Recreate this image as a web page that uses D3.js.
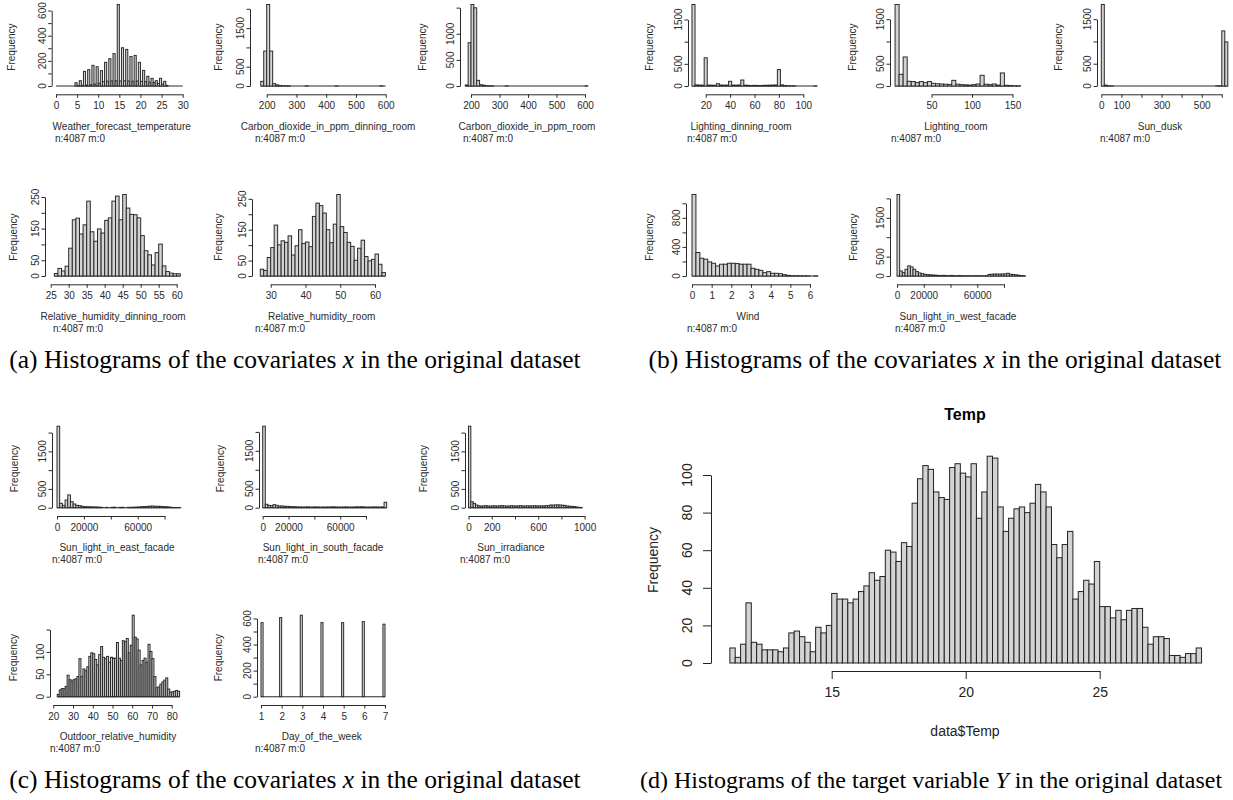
<!DOCTYPE html>
<html>
<head>
<meta charset="utf-8">
<script src="https://cdn.jsdelivr.net/npm/d3@7"></script>
<style>
  body { margin: 0; background: #fff; }
  svg { display: block; }
</style>
</head>
<body>
<svg id="viz" width="1233" height="800"></svg>
<script>
// ---- data (counts) ----
const weatherCounts = [0,0,0,0,0,0,0,0,0,26,3,42,5,116,8,130,10,164,15,153,22,122,35,188,38,217,40,257,42,648,40,304,42,291,40,235,38,243,40,188,36,124,35,77,30,61,28,42,20,61,15,37,5,0,0,0,0,0,0,0];
const co2DiningCounts = [120,905,2111,905,60,30,12,6,3,2, 0,0,0,0,0,1,0,0,0,0, 0,0,0,0,0,1,0,0,0,0, 0,0,0,0,0,0,0,0,0,0, 1,0];
const co2RoomCounts = [20,828,1560,1497,108,25,15,5,3,2, 0,0,0,0,1,0,0,0,0,0, 0,0,0,0,0,0,0,0,0,0, 0,0,0,0,0,0,0,0,0,0, 0,0,1];
const rhDiningCounts = [8,24,16,31,88,178,183,133,162,237,140,110,149,136,176,184,237,253,178,258,215,195,194,184,128,80,67,35,74,101,32,14,9,7,7];
const rhRoomCounts = [22,18,60,92,165,101,114,109,130,68,98,150,105,110,95,193,236,228,204,150,108,168,264,160,141,109,96,51,90,116,63,49,54,71,38,11];
const lightDiningCounts = [1838,25,20,18,637,20,18,15,52,22, 18,20,105,20,18,22,135,18,15,10, 15,12,10,15,15,18,20,22,370,25, 12,5,3,2,0,0,0,0,0,0, 1];
const lightRoomCounts = [1830,262,652,105,100,75,100,75,100,60, 50,45,40,35,127,40,30,25,20,30, 45,240,40,30,45,20,293,15,10,3, 2];
const sunDuskCounts = [1830,20,2,1,0,0,0,0,0,0, 0,0,0,0,0,0,0,0,0,0, 0,0,0,0,0,0,0,0,0,0, 0,0,0,0,0,0,0,0,1,3, 1238,990];
const windCounts = [1121,323,245,231,194,175,138,162,162,175,175,171,162,162,162,106,92,78,46,60,37,37,32,18,9,4,3,2,1,1,0,1];
const westCounts = [2100,130,87,173,260,234,173,113,78,61, 43,35,30,25,20,15,12,18,10,8, 15,5,3,12,5,4,3,2,2,8, 3,2,3,5,40,45,50,50,48,52, 55,70,45,38,30,20,10,5];
const eastCounts = [2170,116,62,205,340,160,98,62,54,36, 27,25,22,20,18,15,10,0,8,0, 10,12,0,8,10,0,9,10,12,15, 20,25,30,35,40,45,36,38,35,30, 25,20,10,5,2,1];
const southCounts = [2150,90,62,54,80,62,45,45,36,36, 30,27,25,18,20,16,18,22,15,18, 20,17,14,18,16,18,20,22,18,16, 15,18,20,14,16,18,22,20,25,18, 16,14,18,20,17,15,20,143];
const irradianceCounts = [2170,160,116,71,50,42,48,55,45,40, 52,47,44,50,55,48,42,46,52,50, 45,48,53,47,44,50,46,49,52,48, 45,50,47,55,52,71,68,72,75,70, 66,60,45,40,35,30,20,10,5];
const outdoorCounts = [5,15,18,18,23,48,38,35,38,40,45,85,45,62,58,67,90,98,96,83,71,94,112,88,85,90,77,88,86,86,121,86,81,125,123,130,98,115,182,133,129,104,71,81,86,77,117,101,85,45,20,22,28,33,37,42,17,10,11,12,14,12];
const days = [1,2,3,4,5,6,7];
const dayCounts = [568,607,625,568,568,576,556];
const tempCounts = [8,3,10,32,11,10,7,7,7,6, 8,16,17,14,11,6,19,16,20,37, 34,34,32,34,38,41,48,44,46,60, 59,54,64,62,85,98,105,103,91,88, 87,104,106,101,99,106,77,91,110,109, 83,70,77,82,83,80,85,95,91,83, 63,56,63,70,34,38,44,42,54,30, 30,24,28,23,28,29,29,19,10,14, 14,13,4,4,3,5,5,8];

// day of week: one narrow bin per day (width 0.1), built from the arrays above
const dayBinCounts = d3.range(60).map(j => {
  const k = days.findIndex(d => (d === 1 ? 0 : Math.round((d - 1) * 10) - 1) === j);
  return k >= 0 ? dayCounts[k] : 0;
});

const histPanels = [
  { name: 'Weather_forecast_temperature', start: 0, width: 0.5, counts: weatherCounts,
    xTicks: d3.range(0, 31, 5), xLabels: d3.range(0, 31, 5), yTicks: d3.range(0, 601, 100), yLabels: [0, 200, 400, 600] },
  { name: 'Carbon_dioxide_in_ppm_dinning_room', start: 180, width: 10, counts: co2DiningCounts,
    xTicks: [200, 300, 400, 500, 600], xLabels: [200, 300, 400, 500, 600], yTicks: [0, 500, 1000, 1500, 2000], yLabels: [0, 500, 1500] },
  { name: 'Carbon_dioxide_in_ppm_room', start: 180, width: 10, counts: co2RoomCounts,
    xTicks: [200, 300, 400, 500, 600], xLabels: [200, 300, 400, 500, 600], yTicks: [0, 500, 1000, 1500], yLabels: [0, 500, 1000] },
  { name: 'Relative_humidity_dinning_room', start: 26, width: 1, counts: rhDiningCounts,
    xTicks: d3.range(25, 61, 5), xLabels: d3.range(25, 61, 5), yTicks: d3.range(0, 251, 50), yLabels: [0, 50, 150, 250] },
  { name: 'Relative_humidity_room', start: 27, width: 1, counts: rhRoomCounts,
    xTicks: [30, 40, 50, 60], xLabels: [30, 40, 50, 60], yTicks: d3.range(0, 251, 50), yLabels: [0, 50, 150, 250] },
  { name: 'Lighting_dinning_room', start: 8.75, width: 2.5, counts: lightDiningCounts,
    xTicks: [20, 40, 60, 80, 100], xLabels: [20, 40, 60, 80, 100], yTicks: [0, 500, 1000, 1500], yLabels: [0, 500, 1500] },
  { name: 'Lighting_room', start: 5, width: 5, counts: lightRoomCounts,
    xTicks: [50, 100, 150], xLabels: [50, 100, 150], yTicks: [0, 500, 1000, 1500], yLabels: [0, 500, 1500] },
  { name: 'Sun_dusk', start: 0, width: 15, counts: sunDuskCounts,
    xTicks: d3.range(0, 601, 100), xLabels: [0, 100, 300, 500], yTicks: [0, 500, 1000, 1500], yLabels: [0, 500, 1500] },
  { name: 'Wind', start: 0, width: 0.2, counts: windCounts,
    xTicks: d3.range(0, 7), xLabels: d3.range(0, 7), yTicks: d3.range(0, 1001, 200), yLabels: [0, 400, 800] },
  { name: 'Sun_light_in_west_facade', start: 0, width: 2000, counts: westCounts,
    xTicks: d3.range(0, 80001, 20000), xLabels: [0, 20000, 60000], yTicks: [0, 500, 1000, 1500, 2000], yLabels: [0, 500, 1500] },
  { name: 'Sun_light_in_east_facade', start: 0, width: 2000, counts: eastCounts,
    xTicks: d3.range(0, 80001, 20000), xLabels: [0, 20000, 60000], yTicks: [0, 500, 1000, 1500, 2000], yLabels: [0, 500, 1500] },
  { name: 'Sun_light_in_south_facade', start: 0, width: 2000, counts: southCounts,
    xTicks: d3.range(0, 80001, 20000), xLabels: [0, 20000, 60000], yTicks: [0, 500, 1000, 1500, 2000], yLabels: [0, 500, 1500] },
  { name: 'Sun_irradiance', start: 0, width: 20, counts: irradianceCounts,
    xTicks: d3.range(0, 1001, 200), xLabels: [0, 200, 600, 1000], yTicks: [0, 500, 1000, 1500, 2000], yLabels: [0, 500, 1500] },
  { name: 'Outdoor_relative_humidity', start: 22, width: 1, counts: outdoorCounts,
    xTicks: d3.range(20, 81, 10), xLabels: d3.range(20, 81, 10), yTicks: [0, 50, 100, 150], yLabels: [0, 50, 100] },
  { name: 'Day_of_the_week', start: 1, width: 0.1, counts: dayBinCounts,
    xTicks: days, xLabels: days, yTicks: d3.range(0, 601, 100), yLabels: [0, 200, 400, 600] }
];

// where each small histogram sits on the page (same order as histPanels)
const layout = [
  { ax: 51.7, rowY: 0, xa: [0, 56], xb: [30, 182.7], tx: 121.7, nx: 55, fx: 11 },
  { ax: 250, rowY: 0, xa: [200, 266.7], xb: [600, 385.7], tx: 328, nx: 255, fx: 218 },
  { ax: 460, rowY: 0, xa: [200, 471], xb: [600, 585], tx: 527, nx: 463, fx: 422 },
  { ax: 45, rowY: 190, xa: [25, 50.7], xb: [60, 176.7], tx: 113, nx: 53, fx: 13 },
  { ax: 252, rowY: 190, xa: [30, 270.7], xb: [60, 375], tx: 321.7, nx: 255, fx: 218 },
  { ax: 688, rowY: 0, xa: [20, 705.7], xb: [100, 803.3], tx: 741, nx: 687, fx: 649 },
  { ax: 890, rowY: 0, xa: [50, 931.5], xb: [150, 1012.5], tx: 956, nx: 891, fx: 852 },
  { ax: 1097, rowY: 0, xa: [0, 1101.3], xb: [500, 1201.7], tx: 1160, nx: 1100, fx: 1058 },
  { ax: 686, rowY: 190, xa: [0, 692], xb: [6, 810], tx: 748, nx: 687, fx: 649 },
  { ax: 890, rowY: 190, xa: [0, 897], xb: [80000, 1004], tx: 958, nx: 895, fx: 853 },
  { ax: 52, rowY: 421.7, xa: [0, 57], xb: [80000, 164.6], tx: 117, nx: 52, fx: 14 },
  { ax: 259, rowY: 421.7, xa: [0, 262.7], xb: [80000, 366], tx: 323, nx: 258, fx: 220 },
  { ax: 465, rowY: 421.7, xa: [0, 468.5], xb: [1000, 584.6], tx: 511, nx: 460, fx: 423 },
  { ax: 50, rowY: 610.7, xa: [20, 53.3], xb: [80, 171.7], tx: 118, nx: 50, fx: 13 },
  { ax: 257, rowY: 610.7, xa: [1, 261], xb: [7, 385], tx: 321.7, nx: 255, fx: 218 }
];

const captions = [
  { pre: '(a) Histograms of the covariates ', sym: 'x', post: ' in the original dataset' },
  { pre: '(b) Histograms of the covariates ', sym: 'x', post: ' in the original dataset' },
  { pre: '(c) Histograms of the covariates ', sym: 'x', post: ' in the original dataset' },
  { pre: '(d) Histograms of the target variable ', sym: 'Y', post: ' in the original dataset' }
];

const SANS = '"Liberation Sans", Arial, Helvetica, sans-serif';
const SERIF = '"Liberation Serif", "Times New Roman", serif';
const svg = d3.select('#viz');

function drawSmall(p, L) {
  const g = svg.append('g');
  const ink = '#2a2a2a';
  const edges = d3.range(p.counts.length + 1).map(i => p.start + i * p.width);
  const x = d3.scaleLinear().domain([L.xa[0], L.xb[0]]).range([L.xa[1], L.xb[1]]);
  const y0 = L.rowY + 86;
  const y = d3.scaleLinear().domain([0, d3.max(p.counts)]).range([y0, L.rowY + 4.5]);

  const bins = p.counts.map((c, i) => ({ c, a: edges[i], b: edges[i + 1] }));

  g.append('line')
    .attr('x1', x(edges[0])).attr('x2', x(edges[edges.length - 1]))
    .attr('y1', y0).attr('y2', y0)
    .attr('stroke', ink).attr('stroke-width', 1.1);

  g.selectAll('rect')
    .data(bins.filter(d => d.c > 0))
    .join('rect')
    .attr('x', d => x(d.a))
    .attr('width', d => x(d.b) - x(d.a))
    .attr('y', d => y(d.c))
    .attr('height', d => y0 - y(d.c))
    .attr('fill', '#d3d3d3')
    .attr('stroke', ink)
    .attr('stroke-width', 1);

  // x axis from first to last tick
  const xt = p.xTicks;
  const xs = x.copy().domain([xt[0], xt[xt.length - 1]]).range([x(xt[0]), x(xt[xt.length - 1])]);
  const xAxis = g.append('g')
    .attr('transform', `translate(0,${L.rowY + 94.3})`)
    .call(d3.axisBottom(xs).tickValues(xt).tickSize(3.5).tickSizeOuter(0).tickPadding(4)
      .tickFormat(v => p.xLabels.includes(v) ? String(v) : ''));
  xAxis.select('.domain').attr('stroke', ink);
  xAxis.selectAll('line').attr('stroke', ink);
  xAxis.selectAll('text').attr('font-family', SANS).attr('font-size', 10).attr('fill', ink);

  // y axis, labels turned like base R
  const yt = p.yTicks;
  const ys = y.copy().domain([yt[0], yt[yt.length - 1]]).range([y(yt[0]), y(yt[yt.length - 1])]);
  const yAxis = g.append('g')
    .attr('transform', `translate(${L.ax},0)`)
    .call(d3.axisLeft(ys).tickValues(yt).tickSize(3.5).tickSizeOuter(0).tickFormat(''));
  yAxis.select('.domain').attr('stroke', ink);
  yAxis.selectAll('line').attr('stroke', ink);

  g.selectAll('text.ylab')
    .data(p.yLabels)
    .join('text')
    .attr('class', 'ylab')
    .attr('transform', v => `translate(${L.ax - 6},${y(v)}) rotate(-90)`)
    .attr('text-anchor', 'middle')
    .attr('font-family', SANS).attr('font-size', 10).attr('fill', ink)
    .text(v => v);

  g.append('text')
    .attr('transform', `translate(${L.fx + 3.5},${L.rowY + 47}) rotate(-90)`)
    .attr('text-anchor', 'middle')
    .attr('font-family', SANS).attr('font-size', 10).attr('fill', ink)
    .text('Frequency');

  g.append('text')
    .attr('x', L.tx).attr('y', L.rowY + 129.5)
    .attr('text-anchor', 'middle')
    .attr('font-family', SANS).attr('font-size', 10).attr('fill', ink)
    .text(p.name);

  g.append('text')
    .attr('x', L.nx).attr('y', L.rowY + 141.5)
    .attr('font-family', SANS).attr('font-size', 10).attr('fill', ink)
    .text('n:4087 m:0');
}

histPanels.forEach((p, i) => drawSmall(p, layout[i]));

// ---- (d) the big Temp histogram ----
(function() {
  const g = svg.append('g');
  const ink = '#222';
  const start = 11.2, width = 0.2;
  const edges = d3.range(tempCounts.length + 1).map(i => start + i * width);
  const x = d3.scaleLinear().domain([15, 25]).range([831.7, 1099.7]);
  const y = d3.scaleLinear().domain([0, 100]).range([663, 475]);

  g.selectAll('rect')
    .data(tempCounts.map((c, i) => ({ c, a: edges[i], b: edges[i + 1] })))
    .join('rect')
    .attr('x', d => x(d.a))
    .attr('width', d => x(d.b) - x(d.a))
    .attr('y', d => y(d.c))
    .attr('height', d => y(0) - y(d.c))
    .attr('fill', '#d3d3d3')
    .attr('stroke', ink)
    .attr('stroke-width', 1);

  const xAxis = g.append('g')
    .attr('transform', 'translate(0,671)')
    .call(d3.axisBottom(x).tickValues([15, 20, 25]).tickSize(8).tickSizeOuter(0).tickPadding(8));
  xAxis.select('.domain').attr('stroke', ink);
  xAxis.selectAll('line').attr('stroke', ink);
  xAxis.selectAll('text').attr('font-family', SANS).attr('font-size', 14).attr('fill', ink);

  const yAxis = g.append('g')
    .attr('transform', 'translate(711,0)')
    .call(d3.axisLeft(y).tickValues(d3.range(0, 101, 20)).tickSize(8).tickSizeOuter(0).tickFormat(''));
  yAxis.select('.domain').attr('stroke', ink);
  yAxis.selectAll('line').attr('stroke', ink);

  g.selectAll('text.ylab')
    .data(d3.range(0, 101, 20))
    .join('text')
    .attr('class', 'ylab')
    .attr('transform', v => `translate(691.5,${y(v)}) rotate(-90)`)
    .attr('text-anchor', 'middle')
    .attr('font-family', SANS).attr('font-size', 14).attr('fill', ink)
    .text(v => v);

  g.append('text')
    .attr('transform', 'translate(658,560) rotate(-90)')
    .attr('text-anchor', 'middle')
    .attr('font-family', SANS).attr('font-size', 14).attr('fill', ink)
    .text('Frequency');

  g.append('text')
    .attr('x', 965).attr('y', 736)
    .attr('text-anchor', 'middle')
    .attr('font-family', SANS).attr('font-size', 14).attr('fill', ink)
    .text('data$Temp');

  g.append('text')
    .attr('x', 965).attr('y', 420)
    .attr('text-anchor', 'middle')
    .attr('font-family', SANS).attr('font-size', 16).attr('font-weight', 'bold').attr('fill', '#000')
    .text('Temp');
})();

// ---- sub-figure captions ----
const capPos = [
  { x: 295, y: 368, anchor: 'middle', size: 25.5 },
  { x: 935, y: 368, anchor: 'middle', size: 25.5 },
  { x: 295, y: 788, anchor: 'middle', size: 25.5 },
  { x: 640, y: 788, anchor: 'start', size: 24 }
];
captions.forEach((c, i) => {
  const t = svg.append('text')
    .attr('x', capPos[i].x).attr('y', capPos[i].y)
    .attr('text-anchor', capPos[i].anchor)
    .attr('font-family', SERIF).attr('font-size', capPos[i].size).attr('fill', '#000');
  t.append('tspan').text(c.pre);
  t.append('tspan').attr('font-style', 'italic').text(c.sym);
  t.append('tspan').text(c.post);
});
</script>
</body>
</html>
